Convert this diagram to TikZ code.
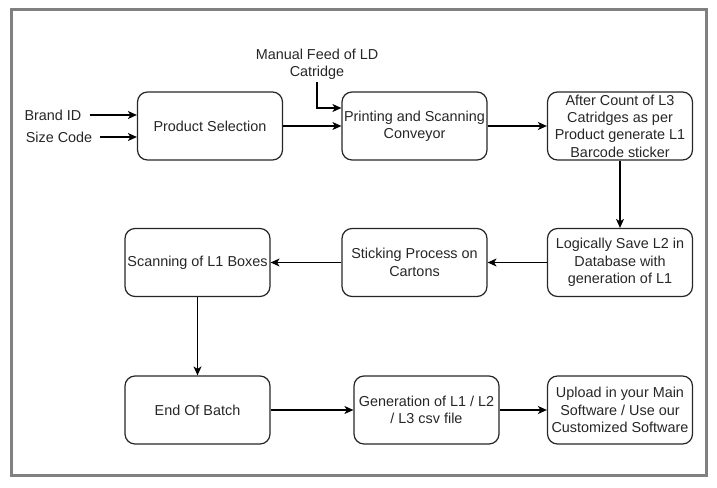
\documentclass[tikz,border=0pt]{standalone}
\usepackage{fontspec}
\setmainfont{Liberation Sans}
\usetikzlibrary{arrows.meta}
\begin{document}
\begin{tikzpicture}[x=1pt,y=-1pt,
        proc/.style={draw=black!85,line width=1.2pt,rounded corners=10pt,minimum width=145pt,minimum height=68pt,align=center,inner sep=1pt,text=black!85,font=\fontsize{14.4}{17.4}\selectfont},
        lbl/.style={inner sep=8pt,align=center,text=black!85,font=\fontsize{14.4}{17.4}\selectfont},
        flow/.style={line width=1.2pt,-{Stealth[length=9pt,width=8pt,inset=2.5pt]}}]
        \useasboundingbox (0,0) rectangle (717,487);
        \draw [line width=3pt,color=black!50] (11,10) rectangle (706.5,475);
        \node[proc] (sel) at (210,126) {Product Selection};
        \node[proc] (print) at (414.5,126) {Printing and Scanning\\Conveyor};
        \node[proc] (count) at (620,126) {After Count of L3\\Catridges as per\\Product generate L1\\Barcode sticker};
        \node[proc] (save) at (620,262.5) {Logically Save L2 in\\Database with\\generation of L1};
        \node[proc] (stick) at (414.5,262.5) {Sticking Process on\\Cartons};
        \node[proc] (scan) at (197.5,262.5) {Scanning of L1 Boxes};
        \node[proc] (eob) at (197.5,410) {End Of Batch};
        \node[proc] (gen) at (426.5,410) {Generation of L1 / L2\\/ L3 csv file};
        \node[proc] (upl) at (620,410) {Upload in your Main\\Software / Use our\\Customized Software};
        \node[lbl] (brand) at (53,115) {Brand ID};
        \node[lbl] (size) at (59,137) {Size Code};
        \node[lbl,inner sep=2pt] (feed) at (317,64.5) {Manual Feed of LD\\Catridge};
        \draw [flow] (brand) -- (brand -| sel.west);
        \draw [flow] (size) -- (size -| sel.west);
        \draw [flow] (feed.south) |- ([yshift=18pt]print.west);
        \draw [flow] (sel) -- (print);
        \draw [flow] (print) -- (count);
        \draw [flow] (count) -- (save);
        \draw [flow] (save) -- (stick);
        \draw [flow] (stick) -- (scan);
        \draw [flow] (scan) -- (eob);
        \draw [flow] (eob) -- (gen);
        \draw [flow] (gen) -- (upl);
\end{tikzpicture}
\end{document}
